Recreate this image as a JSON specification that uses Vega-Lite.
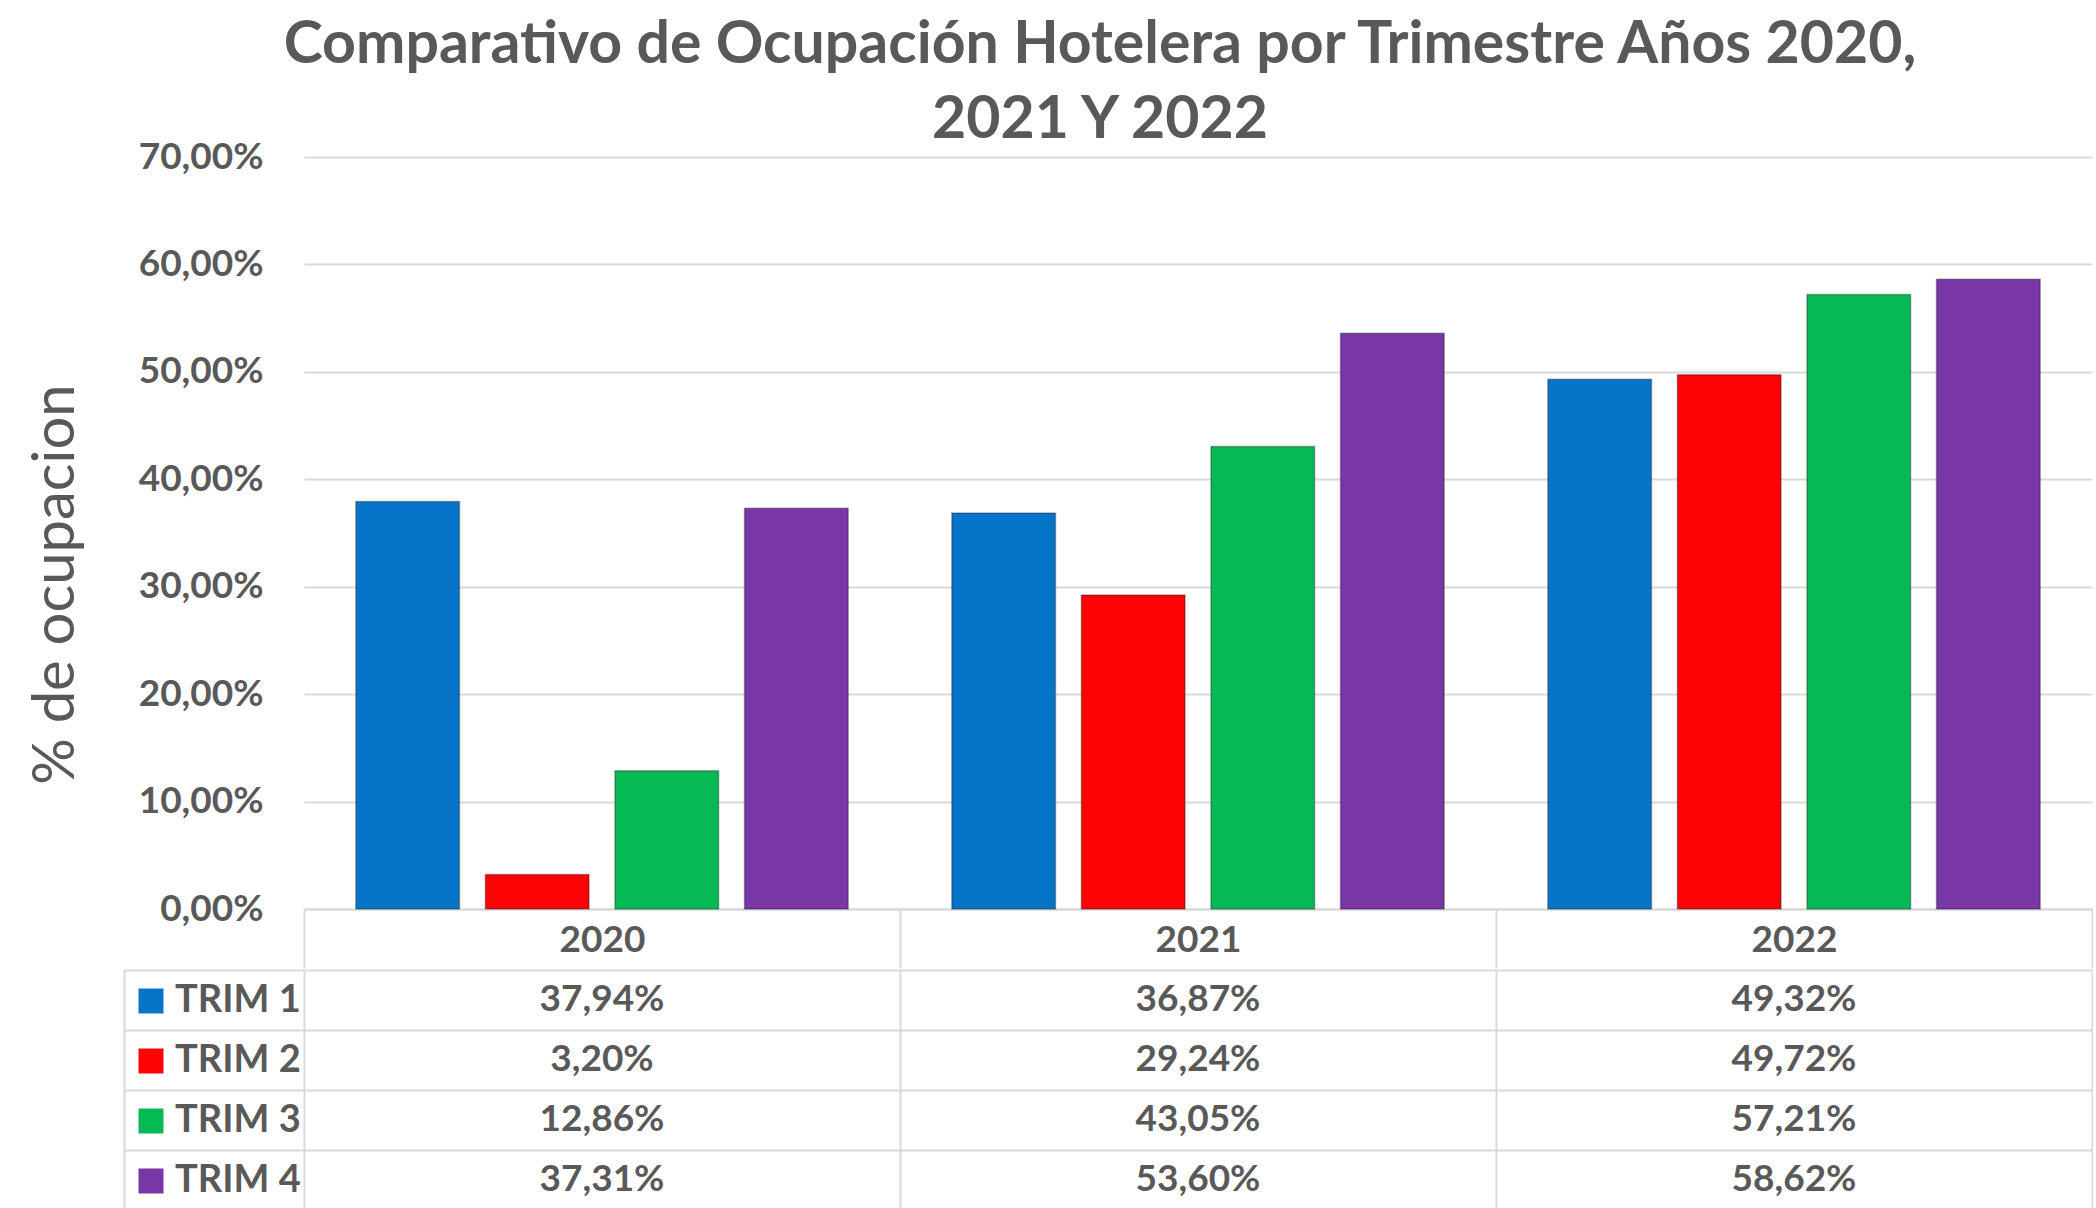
{
  "$schema": "https://vega.github.io/schema/vega-lite/v6.json",
  "padding": {"left": 27, "top": 16, "right": 0, "bottom": 0},
  "background": "white",
  "title": {
    "text": ["Comparativo de Ocupación Hotelera por Trimestre Años 2020,", "2021 Y 2022"],
    "font": "Lato", "fontSize": 59, "fontWeight": "bold", "color": "#595959",
    "lineHeight": 75, "anchor": "middle", "offset": -12, "dx": 40
  },
  "config": {
    "locale": {"number": {"decimal": ",", "thousands": ".", "grouping": [3], "currency": ["", " €"]}},
    "font": "Lato",
    "view": {"stroke": null}
  },
  "datasets": {
    "occ": [
      {"year": "2020", "trim": "TRIM 1", "value": 0.3794},
      {"year": "2020", "trim": "TRIM 2", "value": 0.0320},
      {"year": "2020", "trim": "TRIM 3", "value": 0.1286},
      {"year": "2020", "trim": "TRIM 4", "value": 0.3731},
      {"year": "2021", "trim": "TRIM 1", "value": 0.3687},
      {"year": "2021", "trim": "TRIM 2", "value": 0.2924},
      {"year": "2021", "trim": "TRIM 3", "value": 0.4305},
      {"year": "2021", "trim": "TRIM 4", "value": 0.5360},
      {"year": "2022", "trim": "TRIM 1", "value": 0.4932},
      {"year": "2022", "trim": "TRIM 2", "value": 0.4972},
      {"year": "2022", "trim": "TRIM 3", "value": 0.5721},
      {"year": "2022", "trim": "TRIM 4", "value": 0.5862}
    ]
  },
  "resolve": {"scale": {"color": "independent"}, "legend": {"color": "independent"}},
  "spacing": 0,
  "vconcat": [
    {
      "width": 1788,
      "height": 752,
      "data": {"name": "occ"},
      "mark": {"type": "bar", "stroke": "#000000", "strokeOpacity": 0.3, "strokeWidth": 1.5},
      "encoding": {
        "x": {
          "field": "year", "type": "nominal",
          "scale": {"paddingInner": 0, "paddingOuter": 0},
          "axis": {
            "title": null, "labelAngle": 0, "labelFont": "Lato", "labelFontSize": 37, "labelFontWeight": "bold",
            "labelColor": "#595959", "labelPadding": -46, "tickBand": "extent", "tickSize": 59,
            "tickColor": "#d9d9d9", "tickWidth": 2, "domainColor": "#d9d9d9", "domainWidth": 2, "grid": false
          }
        },
        "xOffset": {"field": "trim", "type": "nominal", "scale": {"paddingInner": 0.2, "paddingOuter": 0.4}},
        "y": {
          "field": "value", "type": "quantitative",
          "scale": {"domain": [0, 0.7], "nice": false},
          "axis": {
            "values": [0, 0.1, 0.2, 0.3, 0.4, 0.5, 0.6, 0.7], "format": ".2%",
            "labelFont": "Lato", "labelFontSize": 37, "labelFontWeight": "bold", "labelColor": "#595959",
            "labelPadding": 41, "ticks": false, "tickSize": 0, "domain": false,
            "gridColor": "#d9d9d9", "gridWidth": 2,
            "title": "% de ocupacion", "titleFont": "Lato", "titleFontSize": 58, "titleFontWeight": "normal",
            "titleColor": "#595959", "titleX": -219, "titleY": 427, "titleAngle": -90, "titleBaseline": "bottom"
          }
        },
        "color": {
          "field": "trim", "type": "nominal",
          "scale": {"domain": ["TRIM 1", "TRIM 2", "TRIM 3", "TRIM 4"], "range": ["#0674C8", "#FE0303", "#05B955", "#7936A6"]},
          "legend": null
        }
      }
    },
    {
      "width": 1788,
      "height": 240,
      "data": {"name": "occ"},
      "encoding": {
        "x": {
          "field": "year", "type": "nominal",
          "scale": {"paddingInner": 0, "paddingOuter": 0},
          "axis": {"orient": "top", "title": null, "labels": false, "ticks": false, "domain": false,
                   "grid": true, "tickBand": "extent", "gridColor": "#d9d9d9", "gridWidth": 2}
        },
        "y": {
          "field": "trim", "type": "nominal", "sort": ["TRIM 1", "TRIM 2", "TRIM 3", "TRIM 4"],
          "scale": {"paddingInner": 0, "paddingOuter": 0},
          "axis": {"title": null, "labels": false, "offset": 180, "domain": true, "domainColor": "#d9d9d9",
                   "domainWidth": 2, "ticks": true, "tickSize": -180, "tickBand": "extent", "tickColor": "#d9d9d9",
                   "tickWidth": 2, "grid": true, "gridColor": "#d9d9d9", "gridWidth": 2}
        }
      },
      "layer": [
        {
          "mark": {"type": "text", "font": "Lato", "fontSize": 37, "fontWeight": "bold", "color": "#595959", "baseline": "middle"},
          "encoding": {"text": {"field": "value", "type": "quantitative", "format": ".2%"}}
        },
        {
          "mark": {"type": "square", "opacity": 0},
          "encoding": {
            "color": {
              "field": "trim", "type": "nominal",
              "scale": {"domain": ["TRIM 1", "TRIM 2", "TRIM 3", "TRIM 4"], "range": ["#0674C8", "#FE0303", "#05B955", "#7936A6"]},
              "legend": {
                "orient": "none", "legendX": -172, "legendY": 12, "title": null,
                "symbolType": "square", "symbolSize": 625, "symbolOpacity": 1, "symbolStrokeWidth": 0,
                "labelFont": "Lato", "labelFontSize": 38, "labelFontWeight": "bold", "labelColor": "#595959",
                "labelOffset": 5, "rowPadding": 22, "padding": 0
              }
            }
          }
        }
      ]
    }
  ]
}
